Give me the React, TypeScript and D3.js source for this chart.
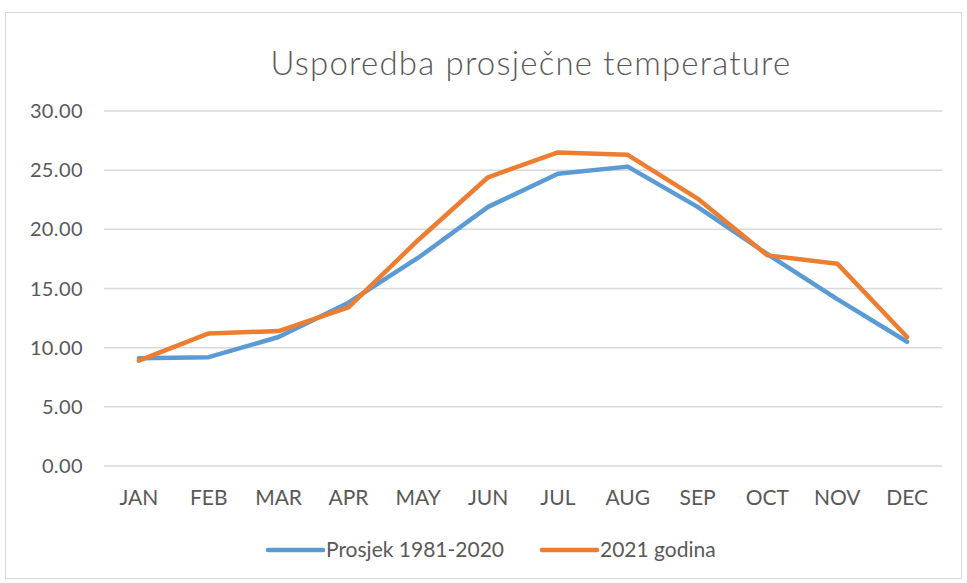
import React from "react";
import * as d3 from "d3";

const months = ["JAN", "FEB", "MAR", "APR", "MAY", "JUN", "JUL", "AUG", "SEP", "OCT", "NOV", "DEC"];
const prosjek = [9.1, 9.2, 10.9, 13.8, 17.6, 21.9, 24.7, 25.3, 21.9, 17.9, 14.1, 10.5];
const godina2021 = [8.9, 11.2, 11.4, 13.4, 19.1, 24.4, 26.5, 26.3, 22.6, 17.8, 17.1, 10.9];
const yTicks = [0, 5, 10, 15, 20, 25, 30];
const seriesNames = ["Prosjek 1981-2020", "2021 godina"];
const colors = ["#5B9BD5", "#ED7D31"];

const W = 967;
const H = 583;
const FONT = "Lato, 'Open Sans', sans-serif";

export default function App() {
  const x = d3.scaleBand<string>().domain(months).range([104, 942]);
  const y = d3.scaleLinear().domain([0, 30]).range([466, 111]);
  const line = d3
    .line<number>()
    .x((_, i) => (x(months[i]) as number) + x.bandwidth() / 2)
    .y((d) => y(d));
  const series = [prosjek, godina2021];

  return (
    <svg
      width={W}
      height={H}
      style={{ position: "absolute", left: 0, top: 0, display: "block", background: "#fff" }}
    >
      <rect x={5.5} y={12.5} width={956} height={566} fill="#fff" stroke="#d9d9d9" strokeWidth={1} />
      <text
        x={531}
        y={75}
        textAnchor="middle"
        fontFamily={FONT}
        fontSize={33}
        letterSpacing={1.2}
        fill="#595959"
        fontWeight={300}
      >
        Usporedba prosječne temperature
      </text>
      {yTicks.map((t) => (
        <g key={t}>
          <line x1={104} x2={942} y1={y(t)} y2={y(t)} stroke="#d9d9d9" strokeWidth={1.5} />
          <text
            x={83}
            y={y(t)}
            dy="0.35em"
            textAnchor="end"
            fontFamily={FONT}
            fontSize={20}
            letterSpacing={0.4}
            fill="#595959"
          >
            {t.toFixed(2)}
          </text>
        </g>
      ))}
      {months.map((m) => (
        <text
          key={m}
          x={(x(m) as number) + x.bandwidth() / 2}
          y={498}
          dy="0.35em"
          textAnchor="middle"
          fontFamily={FONT}
          fontSize={21}
          fill="#595959"
        >
          {m}
        </text>
      ))}
      {series.map((s, i) => (
        <path
          key={i}
          d={line(s) as string}
          fill="none"
          stroke={colors[i]}
          strokeWidth={4.5}
          strokeLinejoin="round"
          strokeLinecap="round"
        />
      ))}
      {seriesNames.map((n, i) => {
        const lx = i === 0 ? 268 : 542;
        return (
          <g key={n}>
            <line x1={lx} x2={lx + 55} y1={550} y2={550} stroke={colors[i]} strokeWidth={4.5} strokeLinecap="round" />
            <text x={lx + 58} y={550} dy="0.35em" fontFamily={FONT} fontSize={21} fill="#595959">
              {n}
            </text>
          </g>
        );
      })}
    </svg>
  );
}
